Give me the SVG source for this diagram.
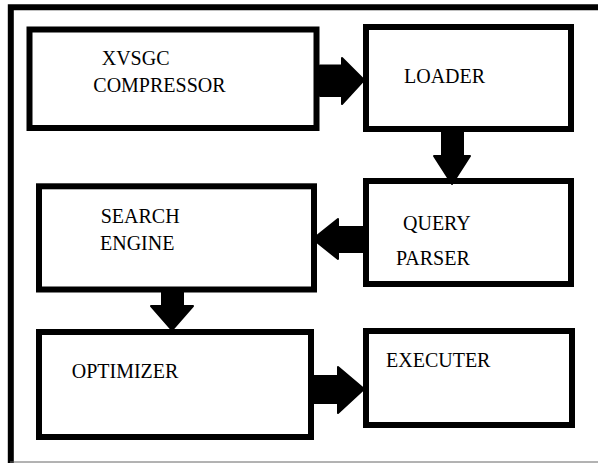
<svg xmlns="http://www.w3.org/2000/svg" width="598" height="463" viewBox="0 0 598 463">
<style>
.box{fill:#fff;stroke:#000;stroke-width:6}
.lbl{font-family:'Liberation Serif','DejaVu Serif',serif;font-size:20px;fill:#000}
.arr{fill:#000;stroke:#000;stroke-width:2;stroke-linejoin:round}
</style>
<rect x="0" y="0" width="598" height="463" fill="#fff"/>
<g id="frame">
<path d="M10.8,463 V7.3 H600" fill="none" stroke="#000" stroke-width="6"/>
<line x1="10" y1="462" x2="598" y2="462" stroke="#666" stroke-width="1"/>
</g>
<g id="compressor">
<rect class="box" x="29.5" y="29.5" width="287" height="98.5"/>
<text class="lbl" font-family="Liberation Serif, serif" x="101.7" y="65">XVSGC</text>
<text class="lbl" font-family="Liberation Serif, serif" x="93.3" y="91.5">COMPRESSOR</text>
</g>
<g id="loader">
<rect class="box" x="366" y="27" width="205" height="102"/>
<text class="lbl" font-family="Liberation Serif, serif" x="404" y="83">LOADER</text>
</g>
<g id="queryparser">
<rect class="box" x="366" y="181" width="205" height="103"/>
<text class="lbl" font-family="Liberation Serif, serif" x="403" y="230">QUERY</text>
<text class="lbl" font-family="Liberation Serif, serif" x="396" y="265">PARSER</text>
</g>
<g id="searchengine">
<rect class="box" x="39" y="186.3" width="275" height="103.2"/>
<text class="lbl" font-family="Liberation Serif, serif" x="100.7" y="223">SEARCH</text>
<text class="lbl" font-family="Liberation Serif, serif" x="100" y="250">ENGINE</text>
</g>
<g id="optimizer">
<rect class="box" x="39" y="332" width="272" height="105"/>
<text class="lbl" font-family="Liberation Serif, serif" x="71.7" y="378">OPTIMIZER</text>
</g>
<g id="executer">
<rect class="box" x="366" y="331" width="206" height="94"/>
<text class="lbl" font-family="Liberation Serif, serif" x="386" y="366.5">EXECUTER</text>
</g>
<g id="connectors">
<polygon class="arr" points="320,65.5 342,65.5 342,58 364,80 342,104 342,96 320,96"/>
<polygon class="arr" points="442,132 463,132 463,156 470,156 452,184 434,156 442,156"/>
<polygon class="arr" points="363,227 338,227 338,219 313,239 338,259 338,252 363,252"/>
<polygon class="arr" points="162,292 183,292 183,306 193,306 172,330 151,306 162,306"/>
<polygon class="arr" points="313,376 338,376 338,367 364,389 338,413 338,403 313,403"/>
</g>
</svg>
